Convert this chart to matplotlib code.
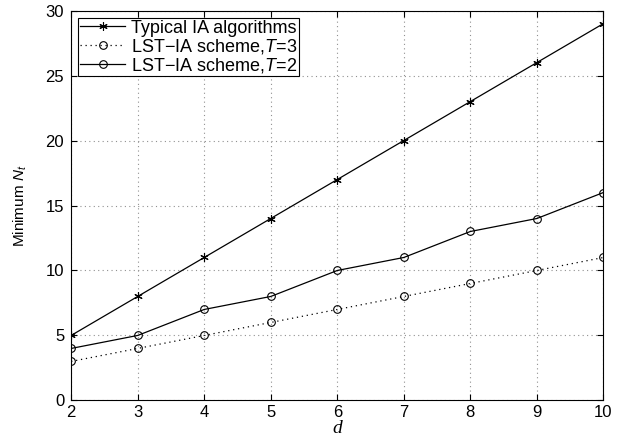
import numpy as np
import matplotlib
matplotlib.use("Agg")
import matplotlib.pyplot as plt

plt.rcParams['font.family'] = ['Liberation Sans', 'DejaVu Sans']
plt.rcParams['mathtext.fontset'] = 'custom'
plt.rcParams['mathtext.it'] = 'Liberation Sans:italic'
plt.rcParams['mathtext.rm'] = 'Liberation Sans'

d = [2, 3, 4, 5, 6, 7, 8, 9, 10]
typical = [5, 8, 11, 14, 17, 20, 23, 26, 29]
lst_t3 = [3, 4, 5, 6, 7, 8, 9, 10, 11]
lst_t2 = [4, 5, 7, 8, 10, 11, 13, 14, 16]

fig = plt.figure(figsize=(6.24, 4.41), dpi=100)
ax = fig.add_axes([0.114, 0.092, 0.853, 0.884])

ax.plot(d, typical, '-', color='black', lw=0.9, marker=(6, 2, 0), ms=6, mew=0.8,
        label='Typical IA algorithms')
ax.plot(d, lst_t3, linestyle=(0, (1, 3)), color='black', lw=0.9, marker='o', ms=5.5,
        mfc='none', mew=0.8, label='LST$-$IA scheme,$T$=3')
ax.plot(d, lst_t2, '-', color='black', lw=0.9, marker='o', ms=5.5, mfc='none', mew=0.8,
        label='LST$-$IA scheme,$T$=2')

ax.set_xlim(2, 10)
ax.set_ylim(0, 30)
ax.set_xticks(range(2, 11))
ax.set_yticks(range(0, 31, 5))
ax.grid(True, linestyle=(0, (1, 3)), color='#909090', lw=0.8)
ax.tick_params(direction='in', labelsize=12, top=True, right=True, length=4, pad=5)
ax.tick_params(axis='x', pad=3)
for s in ax.spines.values():
    s.set_linewidth(0.8)

ax.set_xlabel('d', family='Liberation Serif', style='italic', fontsize=14, labelpad=0)
ax.set_ylabel('Minimum $N_t$', fontsize=11, labelpad=12)

leg = ax.legend(loc='upper left', fontsize=13, fancybox=False, edgecolor='black',
                framealpha=1, borderaxespad=0.4, handlelength=2.5, borderpad=0.1,
                labelspacing=0.0, handletextpad=0.3)
leg.get_frame().set_linewidth(0.8)

fig.savefig('out.png', dpi=100)
